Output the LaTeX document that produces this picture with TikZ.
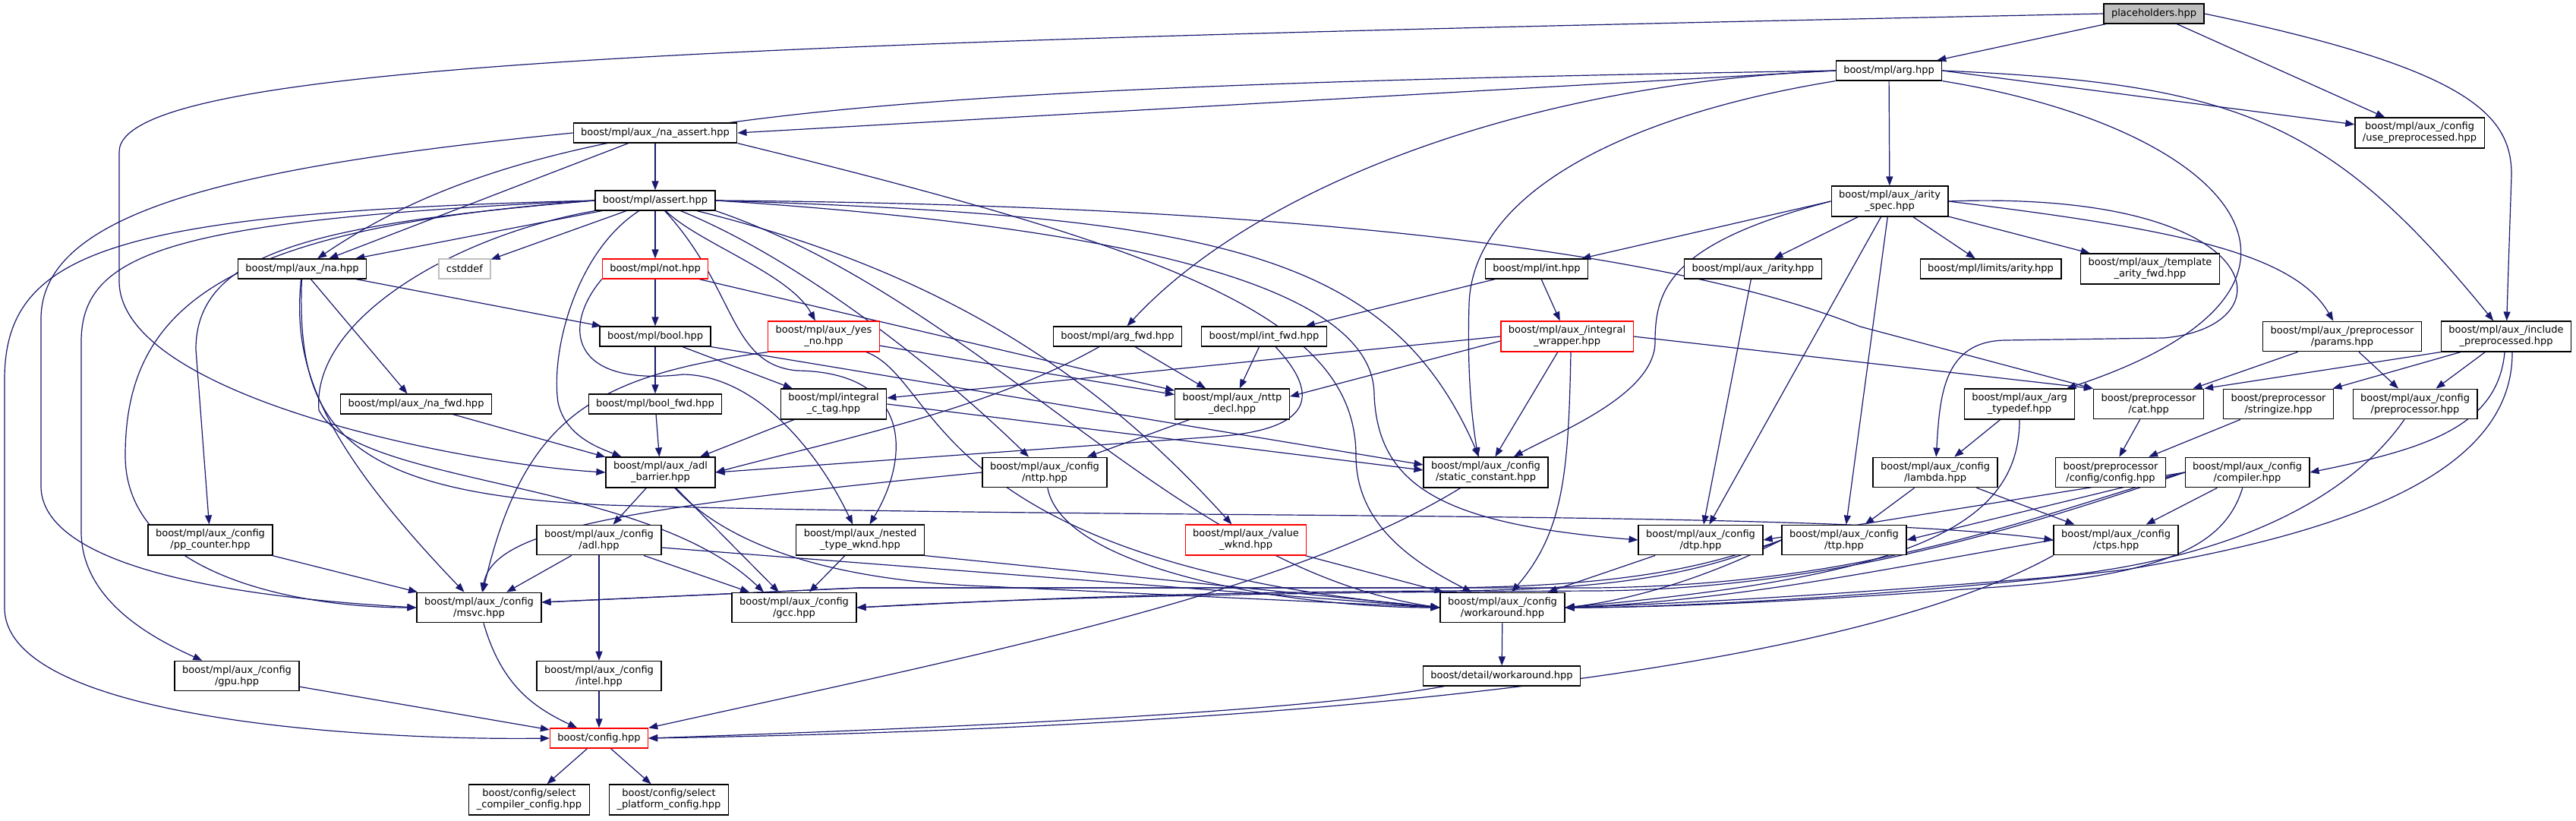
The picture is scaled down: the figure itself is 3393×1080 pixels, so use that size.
\documentclass[tikz,border=0pt]{standalone}
\usepackage{fontspec}
\setmainfont{DejaVu Sans}
\usetikzlibrary{arrows.meta}
\definecolor{edgeblue}{HTML}{191970}
\definecolor{greyfill}{HTML}{BFBFBF}
\newcommand{\hdrfont}{\fontsize{13}{15}\selectfont}
\pgfdeclarelayer{bg}
\pgfsetlayers{bg,main}

\begin{document}
\begin{tikzpicture}[x=1pt, y=-1pt,
    hdr/.style={draw=black, line width=1.2pt, fill=white, inner xsep=10pt, inner ysep=6pt, minimum height=26pt, align=center, font=\hdrfont},
    redhdr/.style={hdr, draw=red},
    sysinc/.style={hdr, draw=greyfill},
    dep/.style={draw=edgeblue, line width=1.2pt, -{Triangle[length=12pt, width=9pt]}}]
    \useasboundingbox (0,0) rectangle (3393,1080);
    % Row 1 and 2
    \node[hdr, fill=greyfill] (ph) at (2837,18) {placeholders.hpp};
    \node[hdr] (arg) at (2488,93) {boost/mpl/arg.hpp};
    \node[hdr] (usepre) at (3187,175) {boost/mpl/aux\_/config\\/use\_preprocessed.hpp};
    \node[hdr] (naassert) at (863,175) {boost/mpl/aux\_/na\_assert.hpp};
    \node[hdr] (assert) at (863,264) {boost/mpl/assert.hpp};
    \node[hdr] (arityspec) at (2489,265) {boost/mpl/aux\_/arity\\\_spec.hpp};
    % Row 3
    \node[hdr] (na) at (398,354) {boost/mpl/aux\_/na.hpp};
    \node[sysinc] (cstddef) at (612,354) {cstddef};
    \node[redhdr] (not) at (863,354) {boost/mpl/not.hpp};
    \node[hdr] (int) at (2024,354) {boost/mpl/int.hpp};
    \node[hdr] (arity) at (2309,354) {boost/mpl/aux\_/arity.hpp};
    \node[hdr] (limits) at (2622,354) {boost/mpl/limits/arity.hpp};
    \node[hdr] (tmplarity) at (2832,354) {boost/mpl/aux\_/template\\\_arity\_fwd.hpp};
    % Row 4
    \node[hdr] (bool) at (863,443) {boost/mpl/bool.hpp};
    \node[redhdr] (yesno) at (1085,443) {boost/mpl/aux\_/yes\\\_no.hpp};
    \node[hdr] (argfwd) at (1472,443) {boost/mpl/arg\_fwd.hpp};
    \node[hdr] (intfwd) at (1665,443) {boost/mpl/int\_fwd.hpp};
    \node[redhdr] (intwrap) at (2064,443) {boost/mpl/aux\_/integral\\\_wrapper.hpp};
    \node[hdr] (params) at (3085,443) {boost/mpl/aux\_/preprocessor\\/params.hpp};
    \node[hdr] (incpre) at (3301,443) {boost/mpl/aux\_/include\\\_preprocessed.hpp};
    % Row 5
    \node[hdr] (nafwd) at (548,532) {boost/mpl/aux\_/na\_fwd.hpp};
    \node[hdr] (boolfwd) at (863,532) {boost/mpl/bool\_fwd.hpp};
    \node[hdr] (intctag) at (1098,532) {boost/mpl/integral\\\_c\_tag.hpp};
    \node[hdr] (nttpdecl) at (1623,532) {boost/mpl/aux\_/nttp\\\_decl.hpp};
    \node[hdr] (argtypedef) at (2660,532) {boost/mpl/aux\_/arg\\\_typedef.hpp};
    \node[hdr] (cat) at (2830,532) {boost/preprocessor\\/cat.hpp};
    \node[hdr] (stringize) at (3001,532) {boost/preprocessor\\/stringize.hpp};
    \node[hdr] (cfgpre) at (3181,532) {boost/mpl/aux\_/config\\/preprocessor.hpp};
    % Row 6
    \node[hdr] (adlbar) at (870,622) {boost/mpl/aux\_/adl\\\_barrier.hpp};
    \node[hdr] (nttp) at (1376,622) {boost/mpl/aux\_/config\\/nttp.hpp};
    \node[hdr] (statconst) at (1957,622) {boost/mpl/aux\_/config\\/static\_constant.hpp};
    \node[hdr] (lambda) at (2549,622) {boost/mpl/aux\_/config\\/lambda.hpp};
    \node[hdr] (ppcfg) at (2780,622) {boost/preprocessor\\/config/config.hpp};
    \node[hdr] (compiler) at (2960,622) {boost/mpl/aux\_/config\\/compiler.hpp};
    % Row 7
    \node[hdr] (ppcounter) at (277,711) {boost/mpl/aux\_/config\\/pp\_counter.hpp};
    \node[hdr] (adl) at (789,711) {boost/mpl/aux\_/config\\/adl.hpp};
    \node[hdr] (nestedwknd) at (1133,711) {boost/mpl/aux\_/nested\\\_type\_wknd.hpp};
    \node[redhdr] (valuewknd) at (1641,711) {boost/mpl/aux\_/value\\\_wknd.hpp};
    \node[hdr] (dtp) at (2240,711) {boost/mpl/aux\_/config\\/dtp.hpp};
    \node[hdr] (ttp) at (2429,711) {boost/mpl/aux\_/config\\/ttp.hpp};
    \node[hdr] (ctps) at (2787,711) {boost/mpl/aux\_/config\\/ctps.hpp};
    % Row 8 to 11
    \node[hdr] (msvc) at (631,800) {boost/mpl/aux\_/config\\/msvc.hpp};
    \node[hdr] (gcc) at (1046,800) {boost/mpl/aux\_/config\\/gcc.hpp};
    \node[hdr] (workaround) at (1979,800) {boost/mpl/aux\_/config\\/workaround.hpp};
    \node[hdr] (gpu) at (312,890) {boost/mpl/aux\_/config\\/gpu.hpp};
    \node[hdr] (intel) at (789,890) {boost/mpl/aux\_/config\\/intel.hpp};
    \node[hdr] (detailwa) at (1978,890) {boost/detail/workaround.hpp};
    \node[redhdr] (config) at (789,972) {boost/config.hpp};
    \node[hdr] (selcomp) at (697,1053) {boost/config/select\\\_compiler\_config.hpp};
    \node[hdr] (selplat) at (881,1053) {boost/config/select\\\_platform\_config.hpp};

    \begin{pgfonlayer}{bg}
    \fill[white] (0,0) rectangle (3393,1080);
    % placeholders.hpp
    \draw[dep] (ph) -- (arg);
    \draw[dep] (ph.west) .. controls (1000,55) and (157,80) .. (157,200) -- (157,370) .. controls (157,520) and (600,610) .. (adlbar.west);
    \draw[dep] (ph) -- (usepre);
    \draw[dep] (ph.east) .. controls (3250,90) and (3308,150) .. (3308,230) -- (incpre);
    % arg.hpp
    \draw[dep] (arg.west) -- (naassert.east);
    \draw[dep] (arg.west) .. controls (1100,115) and (700,150) .. (na);
    \draw[dep] (arg.west) .. controls (2000,110) and (1650,250) .. (argfwd);
    \draw[dep] (arg.south west) .. controls (2150,150) and (1940,250) .. (1935,400) .. controls (1932,500) and (1940,560) .. ([xshift=-10]statconst.north);
    \draw[dep] (arg) -- (arityspec);
    \draw[dep] (arg.south east) .. controls (2950,170) and (3120,380) .. (argtypedef);
    \draw[dep] (arg.east) -- (usepre);
    \draw[dep] (arg.east) .. controls (2950,110) and (3070,160) .. (incpre);
    % na_assert.hpp
    \draw[dep] (naassert) -- (assert);
    \draw[dep] (naassert) -- (na);
    \draw[dep] (naassert.west) .. controls (300,220) and (54,280) .. (54,420) -- (54,640) .. controls (54,720) and (200,780) .. (msvc.west);
    \draw[dep] (naassert.south east) .. controls (1550,330) and (1786,420) .. (1786,600) .. controls (1786,690) and (1860,740) .. (workaround);
    % assert.hpp
    \draw[dep] (assert) -- (not);
    \draw[dep] (assert) -- (cstddef);
    \draw[dep] (assert) -- (na);
    \draw[dep] (assert) .. controls (920,320) and (1040,360) .. (yesno);
    \draw[dep] (assert) .. controls (1250,360) and (1450,500) .. (valuewknd);
    \draw[dep] (assert) .. controls (970,380) and (960,480) .. (1050,488) .. controls (1200,490) and (1200,600) .. (nestedwknd);
    \draw[dep] (assert) .. controls (760,330) and (725,460) .. (735,530) .. controls (745,575) and (790,590) .. (adlbar);
    \draw[dep] (assert) .. controls (1050,340) and (1230,480) .. (nttp);
    \draw[dep] (assert.east) .. controls (1500,300) and (1810,380) .. (1810,520) .. controls (1815,640) and (1900,690) .. (dtp.west);
    \draw[dep] (assert.south west) .. controls (600,310) and (410,420) .. (420,540) .. controls (470,640) and (850,630) .. ([xshift=-40]gcc.north);
    \draw[dep] (assert.west) .. controls (300,300) and (165,400) .. (165,600) .. controls (165,760) and (400,800) .. (msvc.west);
    \draw[dep] (assert.west) .. controls (230,290) and (107,330) .. (107,450) -- (107,700) .. controls (107,790) and (200,840) .. (gpu);
    \draw[dep] (assert.west) .. controls (420,295) and (258,330) .. (258,460) -- (ppcounter);
    \draw[dep] (assert.west) .. controls (150,280) and (6,330) .. (6,500) -- (6,800) .. controls (6,950) and (500,975) .. (config.west);
    \draw[dep] (assert.east) .. controls (1600,285) and (1830,330) .. (statconst);
    \draw[dep] (assert.east) .. controls (1700,270) and (2200,330) .. (2450,430) -- (cat.north west);
    \draw[dep] (assert.south east) .. controls (1300,400) and (1550,750) .. (workaround.west);
    % na.hpp
    \draw[dep] (na) -- (nafwd);
    \draw[dep] (na) -- (bool);
    \draw[dep] (na) .. controls (385,480) and (420,580) .. (msvc);
    \draw[dep] (na) .. controls (390,560) and (450,650) .. (800,665) .. controls (1500,685) and (2400,670) .. (ctps.west);
    % not.hpp
    \draw[dep] (not) -- (bool);
    \draw[dep] (not) -- (nttpdecl);
    \draw[dep] (not.south west) .. controls (740,430) and (750,510) .. (900,493) .. controls (1000,495) and (1080,600) .. (nestedwknd);
    % bool.hpp
    \draw[dep] (bool) -- (boolfwd);
    \draw[dep] (bool) -- (intctag);
    \draw[dep] (bool.south east) -- ([yshift=10]statconst.west);
    % yes_no.hpp
    \draw[dep] (yesno) -- (nttpdecl);
    \draw[dep] (yesno.south west) .. controls (780,495) and (690,550) .. (msvc);
    \draw[dep] (yesno) .. controls (1240,500) and (1220,740) .. (workaround.west);
    % forward headers
    \draw[dep] (nafwd) -- (adlbar);
    \draw[dep] (boolfwd) -- (adlbar);
    \draw[dep] (intctag) -- (adlbar);
    \draw[dep] (intctag.east) -- ([yshift=3]statconst.west);
    \draw[dep] (argfwd) .. controls (1300,540) and (1100,580) .. (adlbar.east);
    \draw[dep] (argfwd) -- (nttpdecl);
    \draw[dep] (intfwd) -- (nttpdecl);
    \draw[dep] ([xshift=15]intfwd.south) .. controls (1730,510) and (1745,565) .. (1600,575) -- (adlbar.east);
    % int.hpp, integral_wrapper.hpp
    \draw[dep] (int) -- (intfwd);
    \draw[dep] (int) -- (intwrap);
    \draw[dep] (intwrap.west) -- ([yshift=8]intctag.east);
    \draw[dep] ([yshift=-6]intwrap.west) -- ([yshift=10]nttpdecl.east);
    \draw[dep] (intwrap) -- (statconst);
    \draw[dep] ([xshift=5]intwrap.south) .. controls (2066,620) and (2060,700) .. ([xshift=12]workaround.north);
    \draw[dep] (intwrap.east) -- (cat.north west);
    % nttp
    \draw[dep] (nttpdecl) -- (nttp);
    \draw[dep] (nttp.west) .. controls (800,670) and (650,700) .. (msvc);
    \draw[dep] (nttp) .. controls (1400,750) and (1700,800) .. (workaround.west);
    % arity_spec.hpp
    \draw[dep] (arityspec.west) -- (int);
    \draw[dep] (arityspec.west) .. controls (2200,320) and (2180,380) .. (2180,450) .. controls (2180,520) and (2050,570) .. (statconst);
    \draw[dep] (arityspec) -- (arity);
    \draw[dep] (arityspec) -- (dtp);
    \draw[dep] (arityspec) -- (ttp);
    \draw[dep] (arityspec) -- (limits);
    \draw[dep] (arityspec) -- (tmplarity);
    \draw[dep] (arityspec.east) .. controls (2990,250) and (3020,430) .. (2850,445) -- (2640,448) .. controls (2560,450) and (2555,520) .. (lambda);
    \draw[dep] (arityspec.east) .. controls (2850,300) and (3020,330) .. (params);
    \draw[dep] (arity) -- (dtp);
    % preprocessor side
    \draw[dep] (argtypedef) -- (lambda);
    \draw[dep] (argtypedef) .. controls (2660,700) and (2500,760) .. (workaround.east);
    \draw[dep] (incpre) .. controls (3290,560) and (3200,590) .. (compiler.east);
    \draw[dep] (incpre) -- (cfgpre);
    \draw[dep] (incpre.south west) -- (cat.north east);
    \draw[dep] ([xshift=-60]incpre.south) -- (stringize);
    \draw[dep] ([xshift=8]incpre.south) .. controls (3310,620) and (3100,700) .. (2800,750) .. controls (2500,785) and (2200,800) .. (workaround.east);
    \draw[dep] (params) -- (cat);
    \draw[dep] (params) -- (cfgpre);
    \draw[dep] (cat) -- (ppcfg);
    \draw[dep] (stringize) -- (ppcfg);
    \draw[dep] (cfgpre) .. controls (3120,620) and (3000,730) .. (2700,760) .. controls (2400,785) and (2200,795) .. (workaround.east);
    % compiler.hpp, ttp, dtp, ctps, lambda
    \draw[dep] (compiler.west) -- (dtp.east);
    \draw[dep] (compiler.west) -- (ttp.east);
    \draw[dep] (compiler) -- (ctps);
    \draw[dep] (compiler.west) .. controls (2650,690) and (2450,770) .. (2100,774) -- (1131,774) -- ([yshift=7]msvc.east);
    \draw[dep] (compiler.west) .. controls (2650,700) and (2400,776) .. (2100,778) .. controls (1600,780) and (1300,790) .. (gcc.east);
    \draw[dep] (compiler) .. controls (2930,720) and (2850,760) .. (2600,775) .. controls (2400,790) and (2200,800) .. (workaround.east);
    \draw[dep] (ttp.west) .. controls (2250,745) and (2150,772) .. (1900,774) -- (1131,774) -- ([yshift=7]msvc.east);
    \draw[dep] (ttp.west) .. controls (2250,750) and (2150,777) .. (1900,778) .. controls (1500,780) and (1300,792) .. (gcc.east);
    \draw[dep] (ttp.west) .. controls (2250,760) and (2150,790) .. (workaround.east);
    \draw[dep] (dtp) -- (workaround);
    \draw[dep] (ctps.west) .. controls (2500,745) and (2300,790) .. (workaround.east);
    \draw[dep] (ctps.south west) .. controls (2400,900) and (1600,960) .. (config.east);
    \draw[dep] (lambda) -- (ttp);
    \draw[dep] (lambda) -- (ctps);
    \draw[dep] (statconst) .. controls (1700,780) and (1300,860) .. (config.north east);
    \draw[dep] (detailwa) .. controls (1700,940) and (1200,960) .. (config.east);
    % adl_barrier.hpp, adl.hpp
    \draw[dep] (adlbar) -- (adl);
    \draw[dep] (adlbar) -- (gcc);
    \draw[dep] (adlbar) .. controls (960,720) and (1100,765) .. (1300,772) -- (workaround.west);
    \draw[dep] (adl) -- (msvc);
    \draw[dep] (adl) -- (intel);
    \draw[dep] (adl) -- (gcc);
    \draw[dep] ([yshift=-10]adl.east) -- (workaround.west);
    % remaining config headers
    \draw[dep] (nestedwknd) -- (gcc);
    \draw[dep] (nestedwknd.south east) -- (workaround.west);
    \draw[dep] (valuewknd) -- (workaround);
    \draw[dep] (ppcounter) -- (msvc);
    \draw[dep] (msvc) .. controls (660,900) and (700,930) .. (config);
    \draw[dep] (gpu) -- (config);
    \draw[dep] (intel) -- (config);
    \draw[dep] (config) -- (selcomp);
    \draw[dep] (config) -- (selplat);
    \draw[dep] (workaround) -- (detailwa);
    \end{pgfonlayer}
\end{tikzpicture}
\end{document}
